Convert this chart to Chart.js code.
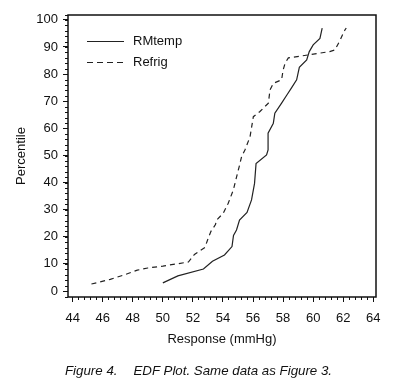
<!DOCTYPE html>
<html>
<head>
<meta charset="utf-8">
<script src="https://cdn.jsdelivr.net/npm/chart.js@4/dist/chart.umd.min.js"></script>
<style>
  body { margin: 0; background: #fff; }
  #wrap { position: relative; width: 402px; height: 390px; font-family: "Liberation Sans", Arial, sans-serif; color: #111; }
  #edf { position: absolute; left: 0; top: 0; }
  .leg { position: absolute; left: 87px; font-size: 13px; line-height: 16px; }
  .leg span.ln { position: absolute; left: 0; top: 8px; width: 37px; height: 1.2px; background: #222; }
  .leg span.ln.dash { background: repeating-linear-gradient(to right, #222 0 6px, transparent 6px 10px); }
  .leg span.tx { position: absolute; left: 46px; top: 0; white-space: nowrap; }
  #caption { position: absolute; left: 65px; top: 363px; font-size: 13.3px; font-style: italic; white-space: nowrap; }
</style>
</head>
<body>
<div id="wrap">
  <canvas id="edf" width="402" height="390"></canvas>
  <div class="leg" style="top:33px"><span class="ln"></span><span class="tx">RMtemp</span></div>
  <div class="leg" style="top:54px"><span class="ln dash"></span><span class="tx">Refrig</span></div>
  <div id="caption">Figure 4.<span style="display:inline-block;width:16px"></span>EDF Plot. Same data as Figure 3.</div>
</div>
<script>
// RMtemp (solid) - response vs percentile
const rmX = [50.0, 51.0, 52.7, 53.3, 54.1, 54.6, 54.7, 54.9, 55.1, 55.6, 55.9, 56.1, 56.2, 56.9, 57.0, 57.0,
             57.35, 57.45, 57.9, 58.25, 58.57, 58.9, 59.08, 59.57, 59.74, 60.0, 60.45, 60.6];
const rmY = [3, 5.6, 8.1, 11, 13.3, 16.4, 20.5, 22.5, 26.2, 29, 33.6, 39.7, 47, 50.2, 52, 58.2,
             61.9, 65.6, 69.3, 72.3, 75, 77.9, 82.5, 85.2, 88.3, 90.8, 93.2, 97];
// Refrig (dashed)
const rfX = [45.25, 46.5, 47.4, 48.3, 49.0, 50.0, 51.7, 52.1, 52.8, 53.02, 53.2, 53.5, 53.58, 54.02, 54.35, 54.69,
             54.91, 55.08, 55.24, 55.46, 55.8, 56.02, 56.46, 57.02, 57.13, 57.35, 57.9, 58.0, 58.13, 58.35,
             59.7, 61.1, 61.45, 61.8, 62.05, 62.2];
const rfY = [2.6, 4.3, 5.9, 7.7, 8.5, 9.2, 10.7, 13.5, 16.1, 19.5, 22, 24.5, 26.2, 28.7, 32.4, 37.3,
             42.2, 45.9, 49.6, 52, 56.9, 64.3, 66.2, 69.3, 74.2, 76.6, 77.9, 81.5, 84, 86,
             87.1, 88.3, 88.9, 92.6, 95.7, 97];

const xMin = 43.69, xMax = 64.18;
const yMin = -2.2, yMax = 101.8;

function pts(xs, ys) {
    let out = [];
    for (let i = 0; i < xs.length; i++) out.push({x: xs[i], y: ys[i]});
    return out;
}

const axisFont = {family: "'Liberation Sans', Arial, sans-serif", size: 13};

// box around the plot area
const frame = {
    id: 'frame',
    afterDraw(chart) {
        const a = chart.chartArea, ctx = chart.ctx;
        ctx.save();
        ctx.strokeStyle = '#111';
        ctx.lineWidth = 1.5;
        ctx.strokeRect(a.left, a.top, a.right - a.left, a.bottom - a.top);
        ctx.restore();
    }
};

new Chart(document.getElementById('edf'), {
    type: 'line',
    data: {
        datasets: [
            {label: 'RMtemp', data: pts(rmX, rmY), borderColor: '#222', borderWidth: 1.2,
             pointRadius: 0, tension: 0, fill: false},
            {label: 'Refrig', data: pts(rfX, rfY), borderColor: '#222', borderWidth: 1.2,
             borderDash: [5, 4], pointRadius: 0, tension: 0, fill: false}
        ]
    },
    options: {
        responsive: false,
        animation: false,
        devicePixelRatio: 1,
        layout: {padding: {left: 0, top: 15, right: 26, bottom: 38}},
        plugins: {legend: {display: false}, tooltip: {enabled: false}},
        scales: {
            x: {
                type: 'linear', position: 'bottom', min: xMin, max: xMax, weight: 0,
                afterFit: s => { s.height = 55; },
                ticks: {stepSize: 2, includeBounds: false, color: '#111', font: axisFont, padding: 9, maxRotation: 0},
                grid: {drawOnChartArea: false, tickLength: 5, tickColor: '#111', tickWidth: 1},
                border: {display: false},
                title: {display: true, text: 'Response (mmHg)', color: '#111', font: axisFont, padding: {top: 0, bottom: 5}}
            },
            xm: {
                type: 'linear', position: 'bottom', min: xMin, max: xMax, weight: -1,
                afterFit: s => { s.height = 0; },
                ticks: {stepSize: 0.4, includeBounds: false, display: false},
                grid: {drawOnChartArea: false, tickLength: 3, tickColor: '#111', tickWidth: 1},
                border: {display: false}
            },
            y: {
                type: 'linear', position: 'left', min: yMin, max: yMax, weight: 0,
                afterFit: s => { s.width = 68; },
                ticks: {stepSize: 10, includeBounds: false, color: '#111', font: axisFont, padding: 5},
                grid: {drawOnChartArea: false, tickLength: 5, tickColor: '#111', tickWidth: 1},
                border: {display: false},
                title: {display: true, text: 'Percentile', color: '#111', font: axisFont, padding: {top: 14, bottom: 0}}
            },
            ym: {
                type: 'linear', position: 'left', min: yMin, max: yMax, weight: -1,
                afterFit: s => { s.width = 0; },
                ticks: {stepSize: 2, includeBounds: false, display: false},
                grid: {drawOnChartArea: false, tickLength: 3, tickColor: '#111', tickWidth: 1},
                border: {display: false}
            }
        }
    },
    plugins: [frame]
});
</script>
</body>
</html>
